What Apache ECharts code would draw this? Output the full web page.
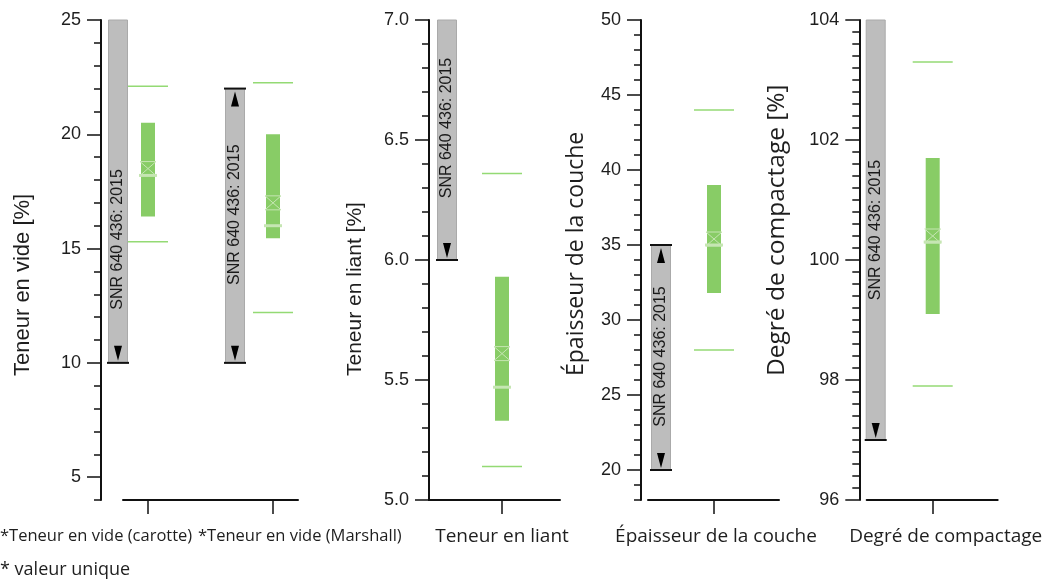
<!DOCTYPE html>
<html><head><meta charset="utf-8">
<script src="https://cdn.jsdelivr.net/npm/echarts@6/dist/echarts.min.js"></script>
<style>html,body{margin:0;padding:0;background:#fff}#c{width:1046px;height:580px}</style>
</head><body><div id="c"></div>
<script>
// ---------------- data ----------------
const categories = ['*Teneur en vide (carotte)', '*Teneur en vide (Marshall)', 'Teneur en liant', 'Épaisseur de la couche', 'Degré de compactage'];
const panelOfCategory = [0, 0, 1, 2, 3];
const whiskerLow  = [15.3, 12.2, 5.14, 28.0, 97.9];
const boxLow      = [16.4, 15.45, 5.33, 31.8, 99.1];
const median      = [18.2, 16.0, 5.47, 35.0, 100.3];
const mean        = [18.5, 17.0, 5.61, 35.4, 100.4];
const boxHigh     = [20.5, 20.0, 5.93, 39.0, 101.7];
const whiskerHigh = [22.1, 22.25, 6.36, 44.0, 103.3];
const normLow  = [10, 10, 6.0, 20, 97];
const normHigh = [25, 22, 7.0, 35, 104];
const normLabel = 'SNR 640 436: 2015';
const axisTitles = ['Teneur en vide [%]', 'Teneur en liant [%]', 'Épaisseur de la couche', 'Degré de compactage [%]'];
const axisMin = [4, 5, 18, 96];
const axisMax = [25, 7, 50, 104];
const majorTicks = [[5, 10, 15, 20, 25], [5.0, 5.5, 6.0, 6.5, 7.0], [20, 25, 30, 35, 40, 45, 50], [96, 98, 100, 102, 104]];
const minorStep = [1, 0.1, 1, 0.2];
const tickDecimals = [0, 1, 0, 0];
const footnote = '* valeur unique';

// ---------------- layout / style ----------------
const layout = [
  {left: 123, width: 175, yOffset: 22, xMin: 0.8, xMax: 2.2, titleX: 23, titleFont: '22px "Liberation Sans", Arial, sans-serif', labelDx: 0},
  {left: 429, width: 131, yOffset: 0, xMin: 0.416, xMax: 1.464, titleX: 355, titleFont: '21px "Liberation Sans", Arial, sans-serif', labelDx: 0},
  {left: 648, width: 131, yOffset: 7, xMin: 0.472, xMax: 1.52, titleX: 576, titleFont: '23px "Open Sans", sans-serif', labelDx: 2},
  {left: 866.7, width: 131, yOffset: 7.4, xMin: 0.472, xMax: 1.52, titleX: 777, titleFont: '24.5px "Open Sans", sans-serif', labelDx: 13}
];
const normShift = [-30, -38, -55, -53, -57];
const normLabelShift = [48, -11, -12, -1, 0];
const GRID_TOP = 20, GRID_H = 480;
const AX = '#111', TXT = '#1e1e1e';
const C_BOX = '#88cc66', C_WHISK = '#94da74', C_MED = '#c6e6b3';
const CAT_FONT = '"Open Sans", sans-serif';

// slot of each category inside its panel (1, 2, ...)
const slot = [];
const panelSlots = [[], [], [], []];
categories.forEach((c, i) => {
  const p = panelOfCategory[i];
  panelSlots[p].push(i);
  slot[i] = panelSlots[p].length;
});

const grid = [], xAxis = [], yAxis = [], series = [];
for (let p = 0; p < 4; p++) {
  const L = layout[p];
  grid.push({left: L.left, top: GRID_TOP, width: L.width, height: GRID_H});
  const slotsHere = panelSlots[p].map(i => slot[i]);
  xAxis.push({
    type: 'value', gridIndex: p, min: L.xMin, max: L.xMax,
    axisLine: {show: true, onZero: false, lineStyle: {color: AX, width: 2}},
    axisTick: {show: true, customValues: slotsHere, length: 14, lineStyle: {color: AX, width: 1.5}},
    axisLabel: {show: p !== 0, customValues: slotsHere, margin: 27,
      formatter: v => { const i = panelSlots[p][Math.round(v) - 1]; return i === undefined ? '' : '{c|' + categories[i] + '}'; },
      rich: {c: {fontFamily: CAT_FONT, fontSize: 19, color: TXT, padding: [0, 0, 0, 2 * L.labelDx]}},
      fontFamily: CAT_FONT, fontSize: 19, color: TXT},
    splitLine: {show: false}
  });
  yAxis.push({
    type: 'value', gridIndex: p, min: axisMin[p], max: axisMax[p], offset: L.yOffset, position: 'left',
    axisLine: {show: true, onZero: false, lineStyle: {color: AX, width: 2}},
    axisTick: {show: true, customValues: majorTicks[p], length: 14, lineStyle: {color: AX, width: 1.5}},
    axisLabel: {show: true, customValues: majorTicks[p], margin: 20,
      formatter: v => Number(v).toFixed(tickDecimals[p]),
      fontFamily: '"Liberation Sans", Arial, sans-serif', fontSize: 18, color: TXT},
    splitLine: {show: false}
  });
  yAxis.push({
    type: 'value', gridIndex: p, min: axisMin[p], max: axisMax[p], interval: minorStep[p], offset: L.yOffset, position: 'left',
    axisLine: {show: false},
    axisTick: {show: true, length: 7, lineStyle: {color: AX, width: 1.5}},
    axisLabel: {show: false},
    splitLine: {show: false}
  });

  // norm bars
  series.push({
    type: 'custom', xAxisIndex: p, yAxisIndex: 2 * p, silent: true, z: 2,
    data: panelSlots[p].map(i => [slot[i], normLow[i], normHigh[i], i]),
    encode: {x: 0, y: [1, 2]},
    renderItem: (params, api) => {
      const i = api.value(3);
      const pp = panelOfCategory[i];
      const xc = api.coord([api.value(0), axisMin[pp]])[0] + normShift[i];
      const yl = api.coord([api.value(0), api.value(1)])[1];
      const yh = api.coord([api.value(0), api.value(2)])[1];
      const w = 19;
      const ch = [{type: 'rect', shape: {x: xc - w / 2, y: yh, width: w, height: yl - yh},
        style: {fill: '#bdbdbd', stroke: '#aaaaaa', lineWidth: 1}}];
      if (api.value(1) > axisMin[pp]) {
        ch.push({type: 'line', shape: {x1: xc - w / 2 - 1.5, y1: yl, x2: xc + w / 2 + 1.5, y2: yl}, style: {stroke: AX, lineWidth: 2}});
        ch.push({type: 'polygon', shape: {points: [[xc - 4, yl - 17], [xc + 4, yl - 17], [xc, yl - 2]]}, style: {fill: '#000'}});
      }
      if (api.value(2) < axisMax[pp]) {
        ch.push({type: 'line', shape: {x1: xc - w / 2 - 1.5, y1: yh, x2: xc + w / 2 + 1.5, y2: yh}, style: {stroke: AX, lineWidth: 2}});
        ch.push({type: 'polygon', shape: {points: [[xc - 4, yh + 18], [xc + 4, yh + 18], [xc, yh + 3]]}, style: {fill: '#000'}});
      }
      ch.push({type: 'text', x: xc, y: (yl + yh) / 2 + normLabelShift[i], rotation: Math.PI / 2,
        style: {text: normLabel, fill: '#1a1a1a', font: '16px "Liberation Sans", Arial, sans-serif', align: 'center', verticalAlign: 'middle'}});
      return {type: 'group', children: ch};
    }
  });

  // measured distributions
  series.push({
    type: 'custom', xAxisIndex: p, yAxisIndex: 2 * p, silent: true, z: 3,
    data: panelSlots[p].map(i => [slot[i], whiskerLow[i], boxLow[i], median[i], mean[i], boxHigh[i], whiskerHigh[i]]),
    encode: {x: 0, y: [1, 6]},
    renderItem: (params, api) => {
      const xv = api.value(0);
      const xc = api.coord([xv, api.value(1)])[0];
      const Y = k => api.coord([xv, api.value(k)])[1];
      const ywl = Y(1), ybl = Y(2), ymd = Y(3), ymn = Y(4), ybh = Y(5), ywh = Y(6);
      const ch = [];
      ch.push({type: 'rect', shape: {x: xc - 7, y: ybh, width: 14, height: ybl - ybh}, style: {fill: C_BOX}});
      [ywl, ywh].forEach(yy => ch.push({type: 'line', shape: {x1: xc - 20, y1: yy, x2: xc + 20, y2: yy}, style: {stroke: C_WHISK, lineWidth: 1.5}}));
      ch.push({type: 'line', shape: {x1: xc - 9, y1: ymd, x2: xc + 9, y2: ymd}, style: {stroke: C_MED, lineWidth: 3}});
      const hx = 8, hy = 7;
      const ms = {stroke: C_MED, lineWidth: 1};
      ch.push({type: 'line', shape: {x1: xc - hx, y1: ymn - hy, x2: xc + hx, y2: ymn + hy}, style: ms});
      ch.push({type: 'line', shape: {x1: xc - hx, y1: ymn + hy, x2: xc + hx, y2: ymn - hy}, style: ms});
      ch.push({type: 'line', shape: {x1: xc - hx, y1: ymn - hy, x2: xc + hx, y2: ymn - hy}, style: ms});
      ch.push({type: 'line', shape: {x1: xc - hx, y1: ymn + hy, x2: xc + hx, y2: ymn + hy}, style: ms});
      return {type: 'group', children: ch};
    }
  });
}

const graphic = [];
axisTitles.forEach((t, p) => {
  graphic.push({type: 'text', x: layout[p].titleX, y: 376, rotation: Math.PI / 2, silent: true,
    style: {text: t, fill: TXT, font: layout[p].titleFont, align: 'left', verticalAlign: 'middle'}});
});
// first panel: the two long category names are laid out side by side
graphic.push({type: 'text', left: 0, top: 528, silent: true,
  style: {text: categories[0], fill: TXT, font: '16.5px ' + CAT_FONT}});
graphic.push({type: 'text', left: 198, top: 528, silent: true,
  style: {text: categories[1], fill: TXT, font: '16.5px ' + CAT_FONT}});
graphic.push({type: 'text', left: 0, top: 561, silent: true,
  style: {text: footnote, fill: TXT, font: '18px ' + CAT_FONT}});

const chart = echarts.init(document.getElementById('c'), null, {renderer: 'canvas'});
chart.setOption({animation: false, backgroundColor: '#fff', grid, xAxis, yAxis, series, graphic});
</script></body></html>
